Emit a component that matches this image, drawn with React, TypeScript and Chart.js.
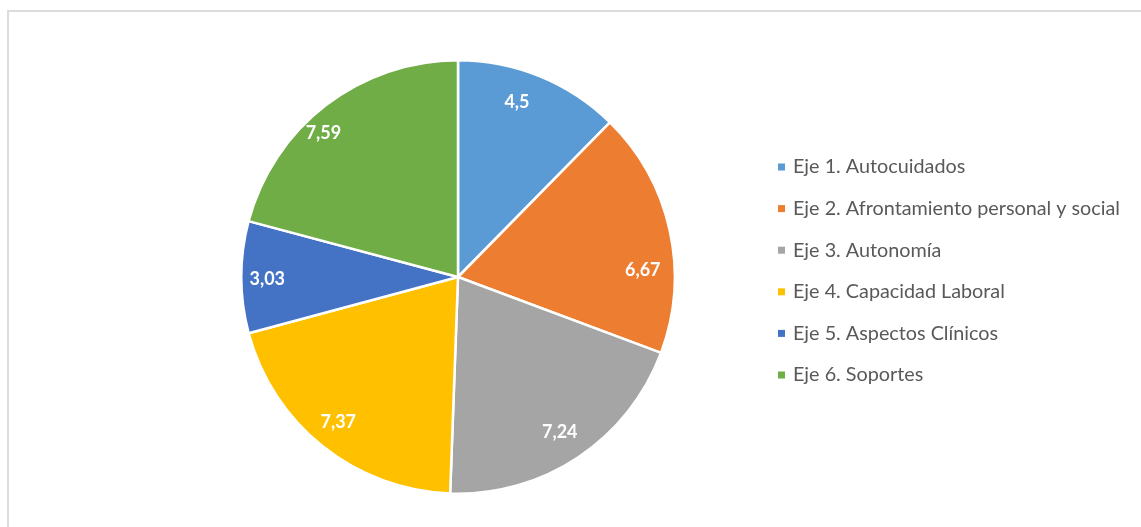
import React, { useEffect, useRef } from "react";
import { Chart, registerables } from "chart.js";

Chart.register(...registerables);

const categories = [
  "Eje 1. Autocuidados",
  "Eje 2. Afrontamiento personal y social",
  "Eje 3. Autonomía",
  "Eje 4. Capacidad Laboral",
  "Eje 5. Aspectos Clínicos",
  "Eje 6. Soportes",
];
const values = [4.5, 6.67, 7.24, 7.37, 3.03, 7.59];
const valueLabels = ["4,5", "6,67", "7,24", "7,37", "3,03", "7,59"];
const colors = ["#5B9BD5", "#ED7D31", "#A5A5A5", "#FFC000", "#4472C4", "#70AD47"];

// label placement tweaks (style only): angle nudge in degrees, radius fraction
const labelAngleNudge = [-3.6, 10.3, 0.5, 0.9, -0.6, -5.5];
const labelRadiusFrac = [0.85, 0.853, 0.857, 0.87, 0.88, 0.91];

const FONT = "Lato, 'Open Sans', sans-serif";

const labelPlugin = {
  id: "sliceLabels",
  afterDatasetsDraw(chart: any) {
    const ctx = chart.ctx;
    const meta = chart.getDatasetMeta(0);
    ctx.save();
    ctx.fillStyle = "#ffffff";
    ctx.font = `bold 18px ${FONT}`;
    ctx.textAlign = "center";
    ctx.textBaseline = "middle";
    meta.data.forEach((arc: any, i: number) => {
      const { x, y, startAngle, endAngle, outerRadius } = arc.getProps(
        ["x", "y", "startAngle", "endAngle", "outerRadius"],
        true
      );
      const mid = (startAngle + endAngle) / 2 + (labelAngleNudge[i] * Math.PI) / 180;
      const r = outerRadius * labelRadiusFrac[i];
      ctx.fillText(valueLabels[i], x + Math.cos(mid) * r, y + Math.sin(mid) * r);
    });
    ctx.restore();
  },
};

const legendPlugin = {
  id: "sideLegend",
  afterDraw(chart: any) {
    const ctx = chart.ctx;
    ctx.save();
    ctx.font = `19.8px ${FONT}`;
    ctx.textBaseline = "middle";
    ctx.textAlign = "left";
    const x0 = 778;
    const y0 = 167;
    const step = 41.6;
    categories.forEach((c, i) => {
      const y = y0 + i * step;
      ctx.fillStyle = colors[i];
      ctx.fillRect(x0, y - 3.5, 7, 7);
      ctx.fillStyle = "#595959";
      ctx.fillText(c, x0 + 15, y);
    });
    ctx.restore();
  },
};

export default function App() {
  const ref = useRef<HTMLCanvasElement>(null);
  useEffect(() => {
    if (!ref.current) return;
    const chart = new Chart(ref.current, {
      type: "pie",
      data: {
        labels: categories,
        datasets: [
          {
            data: values,
            backgroundColor: colors,
            borderColor: "#ffffff",
            borderWidth: 2.5,
          },
        ],
      },
      options: {
        animation: false,
        responsive: false,
        maintainAspectRatio: false,
        layout: { padding: { left: 240, right: 465, top: 59, bottom: 32 } },
        plugins: {
          legend: { display: false },
          tooltip: { enabled: false },
        },
      },
      plugins: [labelPlugin, legendPlugin],
    });
    return () => chart.destroy();
  }, []);
  return (
    <div
      style={{
        position: "fixed",
        left: 0,
        top: 0,
        width: 1141,
        height: 527,
        overflow: "hidden",
        background: "#ffffff",
      }}
    >
      <div
        style={{
          position: "absolute",
          left: 7,
          top: 10,
          width: 1200,
          height: 600,
          border: "2px solid #dcdcdc",
          boxSizing: "border-box",
        }}
      />
      <canvas
        ref={ref}
        width={1141}
        height={527}
        style={{ position: "absolute", left: 0, top: 0, width: 1141, height: 527 }}
      />
    </div>
  );
}
